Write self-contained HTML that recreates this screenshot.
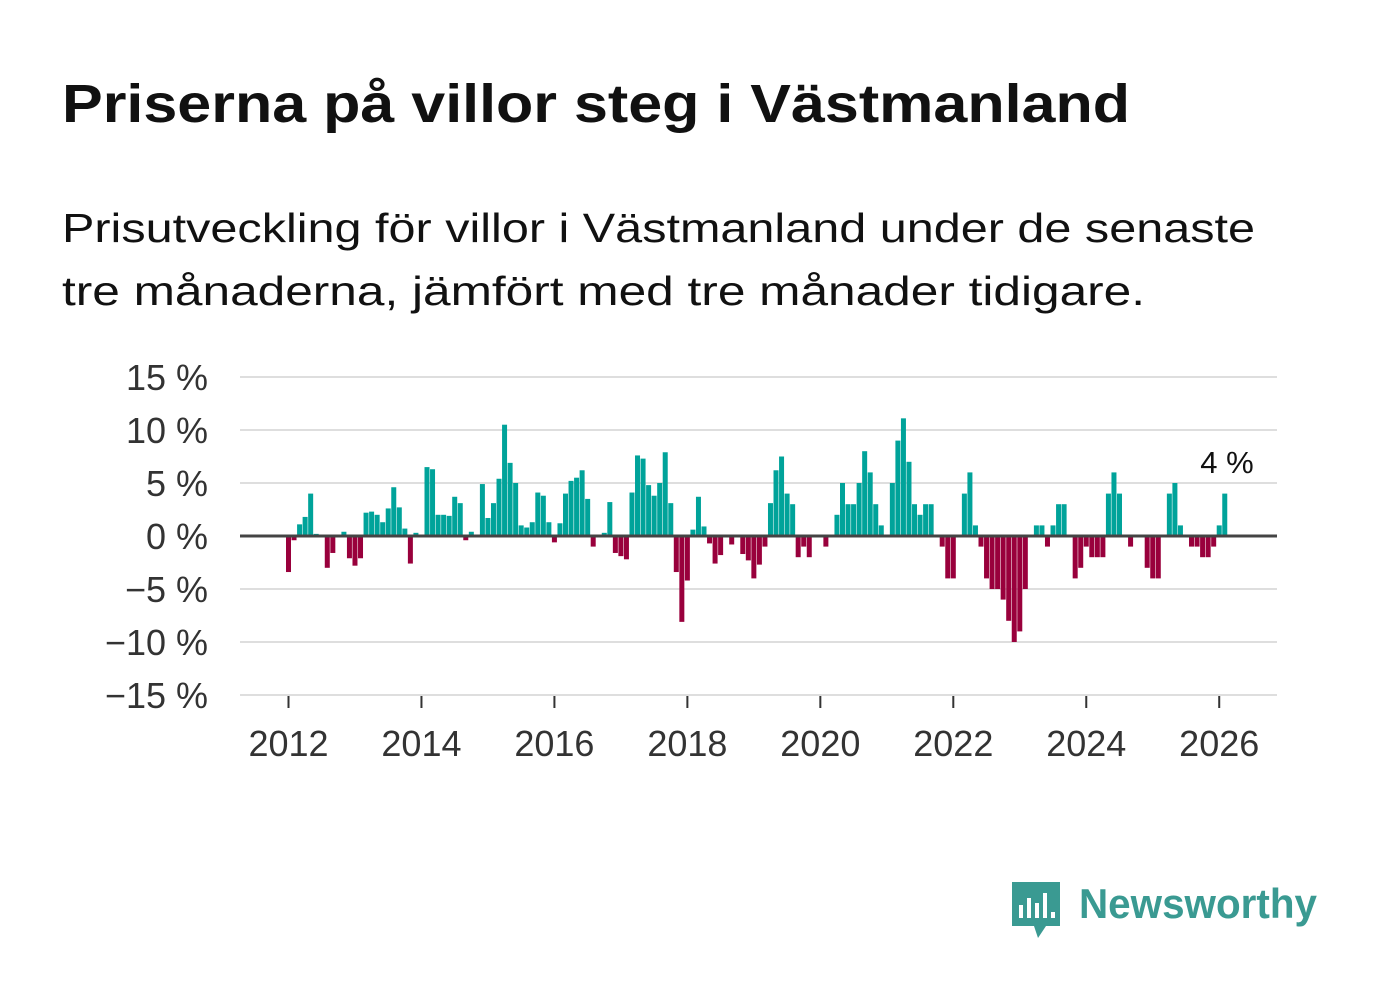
<!DOCTYPE html>
<html><head><meta charset="utf-8">
<style>
html,body{margin:0;padding:0;background:#fff;}
body{width:1382px;height:999px;overflow:hidden;font-family:"Liberation Sans",sans-serif;}
</style></head>
<body>
<svg id="chart" width="1382" height="999" viewBox="0 0 1382 999" xmlns="http://www.w3.org/2000/svg">
  <text x="62" y="122" font-family="Liberation Sans, sans-serif" font-weight="bold" font-size="54" fill="#111" textLength="1068" lengthAdjust="spacingAndGlyphs">Priserna på villor steg i Västmanland</text>
  <text x="62" y="242" font-family="Liberation Sans, sans-serif" font-size="41" fill="#111" textLength="1193" lengthAdjust="spacingAndGlyphs">Prisutveckling för villor i Västmanland under de senaste</text>
  <text x="62" y="305" font-family="Liberation Sans, sans-serif" font-size="41" fill="#111" textLength="1083" lengthAdjust="spacingAndGlyphs">tre månaderna, jämfört med tre månader tidigare.</text>
  <g id="grid"></g>
  <g id="bars"></g>
  <g id="axes"></g>
  <text x="1227" y="473" text-anchor="middle" font-family="Liberation Sans, sans-serif" font-size="31" fill="#111">4 %</text>
  <g>
    <path d="M1012 882 h48 v44 h-14 l-8 12 l-4 -12 h-22 z" fill="#3a9a92"/>
    <rect x="1019" y="905" width="4" height="13" fill="#fff"/>
    <rect x="1027" y="898" width="4" height="20" fill="#fff"/>
    <rect x="1035" y="903" width="4" height="15" fill="#fff"/>
    <rect x="1043" y="893" width="4" height="25" fill="#fff"/>
    <rect x="1051" y="912" width="4" height="6" fill="#fff"/>
    <text x="1079" y="918" font-family="Liberation Sans, sans-serif" font-weight="bold" font-size="42" fill="#3a9a92" textLength="238" lengthAdjust="spacingAndGlyphs">Newsworthy</text>
  </g>
</svg>
<script>
const values = [
-3.4,-0.4,1.1,1.8,4.0,0.2,0,-3.0,-1.6,0,0.4,-2.1,
-2.8,-2.1,2.2,2.3,2.0,1.3,2.6,4.6,2.7,0.7,-2.6,0.3,
0,6.5,6.3,2.0,2.0,1.9,3.7,3.1,-0.4,0.4,0,4.9,
1.7,3.1,5.4,10.5,6.9,5.0,1.0,0.8,1.3,4.1,3.8,1.3,
-0.6,1.2,4.0,5.2,5.5,6.2,3.5,-1.0,0,0.3,3.2,-1.6,
-1.9,-2.2,4.1,7.6,7.3,4.8,3.8,5.0,7.9,3.1,-3.4,-8.1,
-4.2,0.6,3.7,0.9,-0.7,-2.6,-1.8,0,-0.8,0,-1.7,-2.3,
-4.0,-2.7,-1.0,3.1,6.2,7.5,4.0,3.0,-2.0,-1.0,-2.0,0,
0,-1.0,0,2.0,5.0,3.0,3.0,5.0,8.0,6.0,3.0,1.0,
0,5.0,9.0,11.1,7.0,3.0,2.0,3.0,3.0,0,-1.0,-4.0,
-4.0,0,4.0,6.0,1.0,-1.0,-4.0,-5.0,-5.0,-6.0,-8.0,-10.0,
-9.0,-5.0,0,1.0,1.0,-1.0,1.0,3.0,3.0,0,-4.0,-3.0,
-1.0,-2.0,-2.0,-2.0,4.0,6.0,4.0,0,-1.0,0,0,-3.0,
-4.0,-4.0,0,4.0,5.0,1.0,0,-1.0,-1.0,-2.0,-2.0,-1.0,
1.0,4.0
];
const startYear = 2012;
const yTicks = [15,10,5,0,-5,-10,-15];
const yTickLabels = ["15 %","10 %","5 %","0 %","\u22125 %","\u221210 %","\u221215 %"];
const xTickYears = [2012,2014,2016,2018,2020,2022,2024,2026];

const NS="http://www.w3.org/2000/svg";
const y0=536, pxPerPct=10.6;
const x0=288.5, pxPerMonth=5.54;
function yScale(v){return y0 - v*pxPerPct;}
function xScale(m){return x0 + m*pxPerMonth;}
function mk(tag,attrs,parent){const e=document.createElementNS(NS,tag);for(const k in attrs)e.setAttribute(k,attrs[k]);parent.appendChild(e);return e;}
const grid=document.getElementById('grid'), bars=document.getElementById('bars'), axes=document.getElementById('axes');

yTicks.forEach((t,i)=>{
  if(t!==0){
    const l=mk('line',{x1:240,x2:1277,y1:yScale(t),y2:yScale(t),stroke:'#dedede','stroke-width':2},grid);
    
    
  }
  const tx=mk('text',{x:208,y:yScale(t)+13,'text-anchor':'end','font-size':36,fill:'#333','font-family':'Liberation Sans, sans-serif'},axes);
  tx.textContent=yTickLabels[i];
  
  
});

values.forEach((v,i)=>{
  const x=xScale(i)-2.5;
  const top=v>=0?yScale(v):y0;
  const h=Math.abs(v)*pxPerPct;
  if(h<=0) return;
  const r=mk('rect',{x:x,y:top,width:5,height:h,fill:v>=0?'#00a39a':'#99003c'},bars);
  
  
});

const zl=mk('line',{x1:240,x2:1277,y1:y0,y2:y0,stroke:'#444','stroke-width':3},axes);



xTickYears.forEach(yr=>{
  const x=xScale((yr-startYear)*12);
  const tk=mk('line',{x1:x,x2:x,y1:696,y2:708,stroke:'#333','stroke-width':2},axes);
  
  
  const tx=mk('text',{x:x,y:756,'text-anchor':'middle','font-size':36,fill:'#333','font-family':'Liberation Sans, sans-serif'},axes);
  tx.textContent=String(yr);
  
  
});
</script>
</body></html>
